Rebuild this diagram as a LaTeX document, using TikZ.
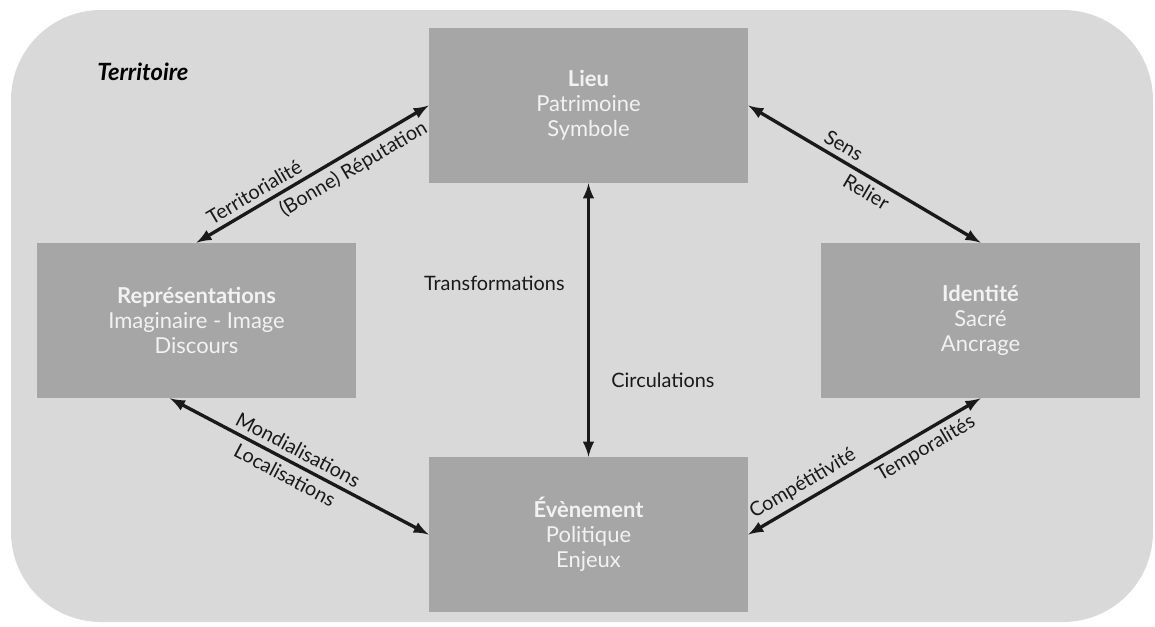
\documentclass[tikz,border=0pt]{standalone}
\usepackage{fontspec}
\setmainfont{Lato}
\usetikzlibrary{calc,positioning}
\definecolor{terrbg}{HTML}{D9D9D9}
\definecolor{terrfill}{HTML}{A6A6A6}

\begin{document}
\begin{tikzpicture}[x=0.02cm,y=-0.02cm]

\tikzstyle{terrnode} = [rectangle,fill=terrfill,minimum width=6.38cm,minimum height=3.1cm,inner sep=0,align=center,text=white!95!black,font=\fontsize{12.5}{14.2}\selectfont]%
\tikzstyle{terrarc} = [<->,>=latex,line width=1.9pt,black!90]%
\tikzstyle{lbl} = [inner sep=3pt,font=\fontsize{11.3}{13}\selectfont,text=black!90]%

\useasboundingbox (0,0) rectangle (1155,626);
\fill[terrbg, rounded corners=1.8cm] (11,10) rectangle (1153,622);

\node[anchor=west,inner sep=0,font=\fontsize{13.5}{15}\selectfont\bfseries\itshape] (terr) at (97,72) {Territoire};

\node[terrnode] (lieu) at (588.5, 105.5) {\textbf{Lieu}\\Patrimoine\\Symbole};
\node[terrnode] (rep) at (196.5, 320.5) {\textbf{Représentations}\\Imaginaire - Image\\Discours};
\node[terrnode] (ident) at (980.5, 320.5) {\textbf{Identité}\\Sacré\\Ancrage};
\node[terrnode] (evt) at (588.5, 534.5) {\textbf{Évènement}\\Politique\\Enjeux};

\draw[terrarc] (rep.north) --
    node[pos=0.28,sloped,lbl,above] {Territorialité}
    node[pos=0.64,sloped,lbl,below] {(Bonne) Réputation}
    (lieu.west);

\draw[terrarc] (lieu.east) --
    node[pos=0.38,sloped,lbl,above] {Sens}
    node[pos=0.54,sloped,lbl,below] {Relier}
    (ident.north);

\draw[terrarc] ($(rep.south west)!0.417!(rep.south east)$) --
    node[pos=0.47,sloped,lbl,above] {Mondialisations}
    node[pos=0.47,sloped,lbl,below] {Localisations}
    (evt.west);

\draw[terrarc] (evt.east) --
    node[pos=0.27,sloped,lbl,above] {Compétitivité}
    node[pos=0.73,sloped,lbl,below] {Temporalités}
    (ident.south);

\draw[terrarc] (lieu.south) --
    node[pos=0.365,lbl,anchor=east,xshift=-0.34cm] {Transformations}
    node[pos=0.72,lbl,anchor=west,xshift=0.32cm] {Circulations}
    (evt.north);

\end{tikzpicture}
\end{document}
